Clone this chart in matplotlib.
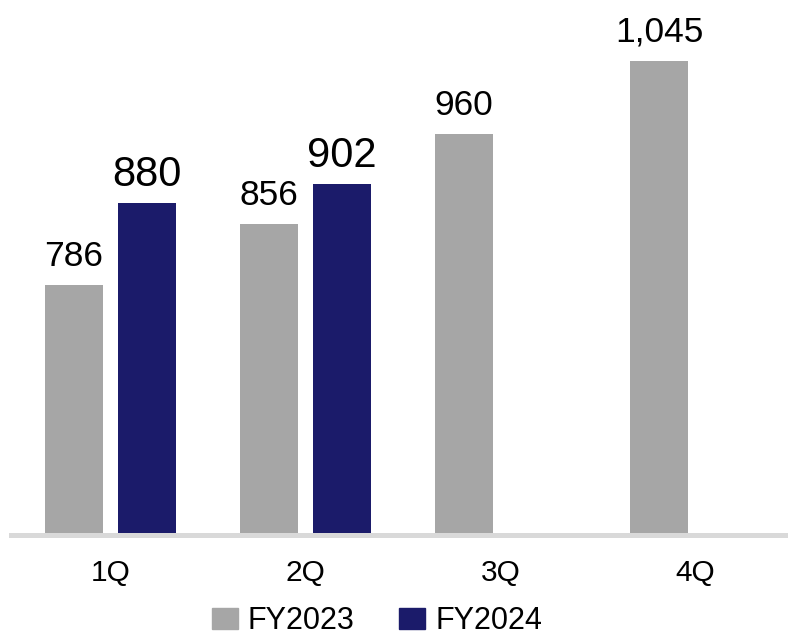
import matplotlib
matplotlib.use("Agg")
import matplotlib.pyplot as plt
from matplotlib.patches import Patch
import numpy as np

plt.rcParams['font.family'] = ['Liberation Sans', 'DejaVu Sans']

quarters = ["1Q", "2Q", "3Q", "4Q"]
fy2023 = [786, 856, 960, 1045]
fy2024 = [880, 902]

gray = "#a6a6a6"
navy = "#1b1b6a"

W, H = 788, 635
fig = plt.figure(figsize=(W / 100, H / 100), dpi=100)
ax = fig.add_axes([11 / W, (H - 534.5) / H, (W - 11) / W, 534.5 / H])

x = np.arange(len(quarters))
off = 0.187
bw = 0.30

ax.bar(x - off, fy2023, width=bw, color=gray, zorder=2)
x24 = x[:len(fy2024)] + off
ax.bar(x24, fy2024, width=bw, color=navy, zorder=2)

for xi, v in zip(x - off, fy2023):
    ax.annotate(f"{v:,}", (xi, v), xytext=(0, 13.7), textcoords="offset points",
                ha="center", va="baseline", fontsize=25.5, color="black")
for xi, v in zip(x24, fy2024):
    ax.annotate(f"{v:,}", (xi, v), xytext=(0, 12.2), textcoords="offset points",
                ha="center", va="baseline", fontsize=30, color="black")

ax.set_xlim(-0.510, 3.474)
ax.set_ylim(497.1, 1115)

for s in ["top", "right", "left"]:
    ax.spines[s].set_visible(False)
ax.spines["bottom"].set_color("#d9d9d9")
ax.spines["bottom"].set_linewidth(3.6)
ax.spines["bottom"].set_zorder(3)

ax.set_yticks([])
ax.set_xticks(x)
ax.set_xticklabels(quarters, fontsize=21.5)
ax.tick_params(axis="x", length=0, pad=18)

handles = [Patch(color=gray, label="FY2023"), Patch(color=navy, label="FY2024")]
fig.legend(handles=handles, loc="center", bbox_to_anchor=(377 / W, 1 - 621 / H),
           ncol=2, frameon=False, fontsize=22, handlelength=0.85,
           handleheight=0.7, handletextpad=0.34, columnspacing=1.45,
           borderpad=0, borderaxespad=0)

fig.savefig("out.png", dpi=100)
